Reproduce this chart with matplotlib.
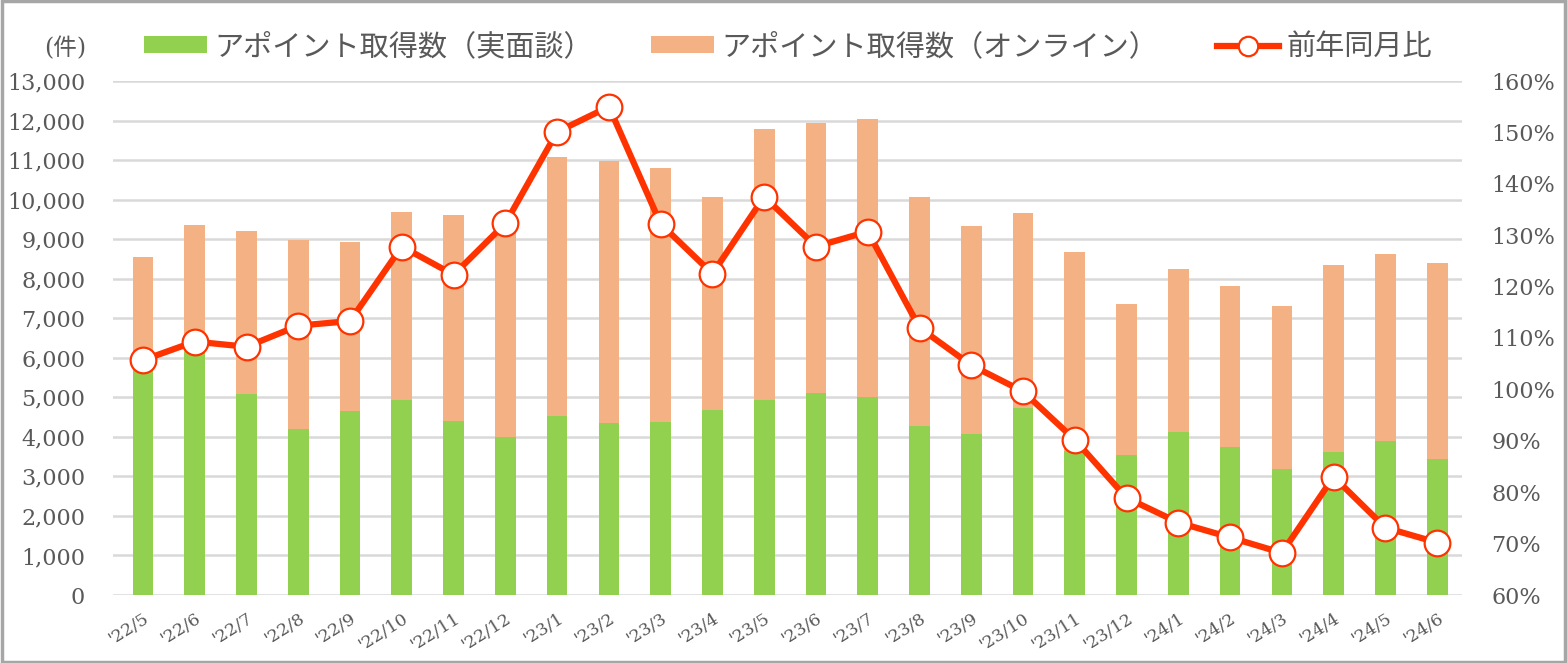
import matplotlib
matplotlib.use("Agg")
import matplotlib.pyplot as plt
from matplotlib.patches import Rectangle, Patch
from matplotlib.lines import Line2D
from matplotlib.ticker import FuncFormatter, MultipleLocator
import numpy as np

months = ["'22/5", "'22/6", "'22/7", "'22/8", "'22/9", "'22/10", "'22/11", "'22/12",
          "'23/1", "'23/2", "'23/3", "'23/4", "'23/5", "'23/6", "'23/7", "'23/8",
          "'23/9", "'23/10", "'23/11", "'23/12", "'24/1", "'24/2", "'24/3", "'24/4",
          "'24/5", "'24/6"]
total = [8550, 9350, 9210, 8990, 8930, 9690, 9610, 9150,
         11090, 10980, 10790, 10070, 11790, 11950, 12050, 10070,
         9340, 9660, 8670, 7370, 8250, 7810, 7310, 8350,
         8630, 8400]
in_person = [5740, 6150, 5080, 4200, 4650, 4940, 4400, 3990,
             4520, 4350, 4380, 4680, 4940, 5100, 5020, 4280,
             4080, 4720, 3650, 3550, 4110, 3740, 3190, 3610,
             3900, 3450]
online = [t - g for t, g in zip(total, in_person)]
yoy = [105.7, 109.3, 108.3, 112.4, 113.3, 127.8, 122.3, 132.3,
       150.1, 155.0, 132.2, 122.5, 137.5, 127.8, 130.7, 112.0,
       104.7, 99.6, 90.2, 78.9, 74.1, 71.2, 68.2, 83.0,
       73.1, 70.2]

GREEN = "#92D050"
ORANGE = "#F4B183"
RED = "#FF3300"
GRID = "#D9D9D9"
TXT = "#595959"
NUMFONT = ["DejaVu Serif", "Noto Sans CJK JP"]
JPFONT = ["Noto Sans CJK JP", "DejaVu Sans"]

W, H = 1567, 663
fig = plt.figure(figsize=(W / 100, H / 100), dpi=100)
ax = fig.add_axes([113 / W, (H - 595) / H, (1462 - 113) / W, (595 - 81) / H])
x = np.arange(len(months))

ax.bar(x, in_person, width=0.4, color=GREEN, zorder=2)
ax.bar(x, online, bottom=in_person, width=0.4, color=ORANGE, zorder=2)
ax.set_xlim(-0.58, len(months) - 0.52)
ax.set_ylim(0, 13000)
ax.yaxis.set_major_locator(MultipleLocator(1000))
ax.yaxis.set_major_formatter(FuncFormatter(lambda v, p: f"{int(v):,}"))
ax.grid(axis="y", color=GRID, linewidth=1.8, zorder=0)
ax.set_axisbelow(True)
for s in ax.spines.values():
    s.set_visible(False)
ax.tick_params(axis="y", length=0, pad=20, labelsize=16, labelcolor=TXT)
ax.tick_params(axis="x", length=0, pad=11)
ax.set_xticks(x)
ax.set_xticklabels(months, rotation=32, ha="right", va="top", rotation_mode="anchor",
                   fontsize=12.5, color=TXT, family=NUMFONT)
for lab in ax.get_yticklabels():
    lab.set_family(NUMFONT)

ax2 = ax.twinx()
ax2.plot(x, yoy, color=RED, linewidth=4.5, marker="o", markersize=18.5,
         markerfacecolor="white", markeredgecolor=RED, markeredgewidth=1.6, zorder=5)
ax2.set_ylim(60, 160)
ax2.yaxis.set_major_locator(MultipleLocator(10))
ax2.yaxis.set_major_formatter(FuncFormatter(lambda v, p: f"{int(round(v))}%"))
for s in ax2.spines.values():
    s.set_visible(False)
ax2.tick_params(axis="y", length=0, pad=21, labelsize=16, labelcolor=TXT)
for lab in ax2.get_yticklabels():
    lab.set_family(NUMFONT)

# unit label
fig.text(86 / W, 1 - 48 / H, "(件)", ha="right", va="center", fontsize=17,
         color=TXT, family=NUMFONT)

handles = [Patch(facecolor=GREEN), Patch(facecolor=ORANGE),
           Line2D([0], [0], color=RED, linewidth=4.5, marker="o", markersize=14,
                  markerfacecolor="white", markeredgecolor=RED, markeredgewidth=1.6)]
labels = ["アポイント取得数（実面談）", "アポイント取得数（オンライン）", "前年同月比"]
leg = fig.legend(handles, labels, loc="center left", bbox_to_anchor=(124 / W, 1 - 47 / H),
                 ncol=3, frameon=False, handlelength=2.15, handleheight=0.5,
                 handletextpad=0.25, columnspacing=2.0, borderpad=0.2,
                 prop={"family": JPFONT, "size": 21})
for t in leg.get_texts():
    t.set_color(TXT)

fig.patches.append(Rectangle((0.001, 0.001), 0.998, 0.997, transform=fig.transFigure,
                             fill=False, edgecolor="#A6A6A6", linewidth=2.5))

fig.savefig("out.png", dpi=100)
